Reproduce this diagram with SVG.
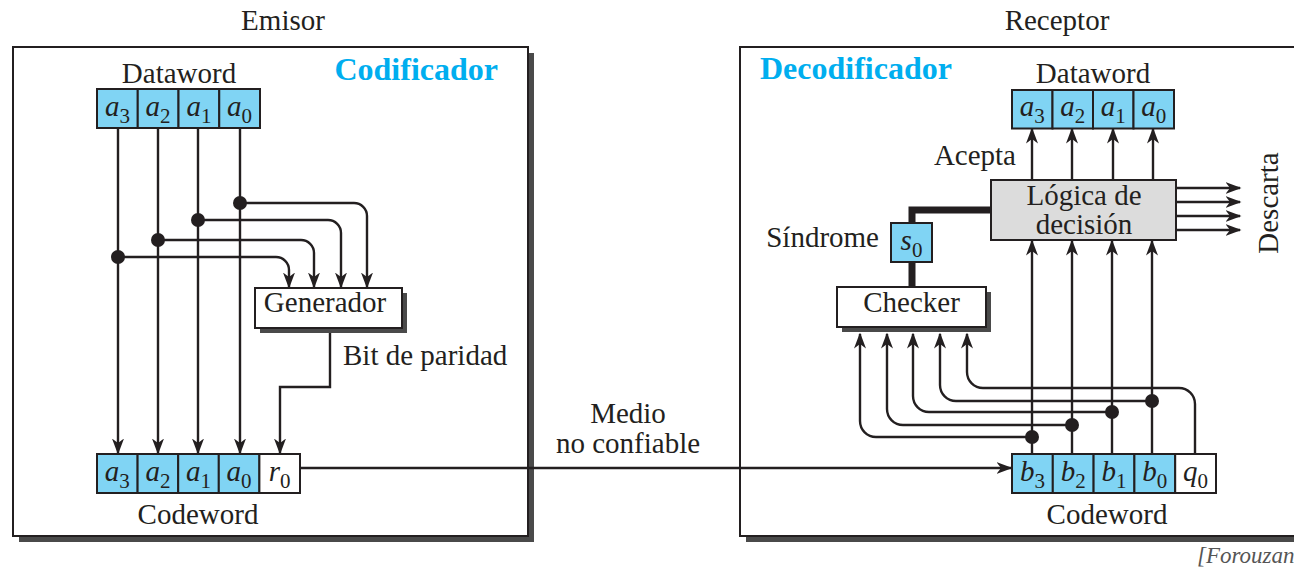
<svg xmlns="http://www.w3.org/2000/svg" width="1294" height="570" viewBox="0 0 1294 570">
<defs>
<style>
text{font-family:"Liberation Serif","Times New Roman",serif;fill:#231F20;font-size:29px}
.blue{fill:#00AEEF;font-weight:bold;font-size:32px}
.cell{fill:#80D4F4;stroke:#231F20;stroke-width:2}
.wcell{fill:#ffffff;stroke:#231F20;stroke-width:2}
.box{fill:#ffffff;stroke:#231F20;stroke-width:2}
.logic{fill:#DCDCDC;stroke:#231F20;stroke-width:2}
.shadow{fill:#4A4A4A}
.ln{fill:none;stroke:#231F20;stroke-width:2.4}
.arr{fill:none;stroke:#231F20;stroke-width:2.4;marker-end:url(#ah)}
.thick{fill:none;stroke:#231F20;stroke-width:7;stroke-linejoin:miter}
.dot{fill:#231F20}
.v{font-style:italic}
.sub{font-size:21px;font-style:normal}
.cite{font-style:italic;fill:#555555;font-size:23px}
</style>
<marker id="ah" markerUnits="userSpaceOnUse" viewBox="0 0 16 12" markerWidth="16" markerHeight="12" refX="14.5" refY="6" orient="auto">
<path d="M0,0 L16,6 L0,12 L4.5,6 z" fill="#231F20"/>
</marker>
</defs>

<text x="283" y="30" text-anchor="middle">Emisor</text>
<text x="1057" y="30" text-anchor="middle">Receptor</text>

<g id="encoder-box">
<rect class="shadow" x="19" y="53" width="515" height="489"/>
<rect class="box" x="13" y="47" width="515" height="489"/>
<text class="blue" x="498" y="80" text-anchor="end">Codificador</text>
</g>

<g id="decoder-box">
<rect class="shadow" x="746" y="53" width="570" height="489"/>
<rect class="box" x="740" y="47" width="570" height="489"/>
<text class="blue" x="760" y="79">Decodificador</text>
</g>

<g id="connectors">
<path class="arr" d="M118,128 V453"/>
<path class="arr" d="M158,128 V453"/>
<path class="arr" d="M198,128 V453"/>
<path class="arr" d="M240,128 V453"/>
<path class="arr" d="M240,203 H354 A13,13 0 0 1 367,216 V287"/>
<path class="arr" d="M198,220 H328 A13,13 0 0 1 341,233 V287"/>
<path class="arr" d="M158,240 H301 A13,13 0 0 1 314,253 V287"/>
<path class="arr" d="M118,257 H276 A13,13 0 0 1 289,270 V287"/>
<circle class="dot" cx="240" cy="203" r="7"/>
<circle class="dot" cx="198" cy="220" r="7"/>
<circle class="dot" cx="158" cy="240" r="7"/>
<circle class="dot" cx="118" cy="257" r="7"/>
<path class="arr" d="M330,327 V387 H280 V453"/>
<path class="arr" d="M300,468 H1011"/>
<path class="arr" d="M1032,180 V129"/>
<path class="arr" d="M1072,180 V129"/>
<path class="arr" d="M1113,180 V129"/>
<path class="arr" d="M1153,180 V129"/>
<path class="arr" d="M1176,188 H1240"/>
<path class="arr" d="M1176,202 H1240"/>
<path class="arr" d="M1176,216 H1240"/>
<path class="arr" d="M1176,230 H1240"/>
<path class="arr" d="M1032,454 V241"/>
<path class="arr" d="M1072,454 V241"/>
<path class="arr" d="M1112,454 V241"/>
<path class="arr" d="M1152,454 V241"/>
<path class="arr" d="M1032,437 H876 A16,16 0 0 1 860,421 V334"/>
<path class="arr" d="M1072,425 H903 A16,16 0 0 1 887,409 V334"/>
<path class="arr" d="M1112,412 H929 A16,16 0 0 1 913,396 V334"/>
<path class="arr" d="M1152,401 H956 A16,16 0 0 1 940,385 V334"/>
<path class="arr" d="M1195,454 V404 A16,16 0 0 0 1179,388 H983 A16,16 0 0 1 967,372 V334"/>
<circle class="dot" cx="1032" cy="437" r="7"/>
<circle class="dot" cx="1072" cy="425" r="7"/>
<circle class="dot" cx="1112" cy="412" r="7"/>
<circle class="dot" cx="1152" cy="401" r="7"/>
<path class="thick" d="M912,262 V287"/>
<path class="thick" d="M912,223 V210 H991"/>
</g>

<g id="enc-dataword">
<text x="179" y="83" text-anchor="middle">Dataword</text>
<rect class="cell" x="97" y="89" width="40.75" height="39"/>
<rect class="cell" x="137.75" y="89" width="40.75" height="39"/>
<rect class="cell" x="178.5" y="89" width="40.75" height="39"/>
<rect class="cell" x="219.25" y="89" width="40.75" height="39"/>
<text x="117.4" y="116" text-anchor="middle"><tspan class="v">a</tspan><tspan class="sub" dy="7">3</tspan></text>
<text x="158.1" y="116" text-anchor="middle"><tspan class="v">a</tspan><tspan class="sub" dy="7">2</tspan></text>
<text x="198.9" y="116" text-anchor="middle"><tspan class="v">a</tspan><tspan class="sub" dy="7">1</tspan></text>
<text x="239.6" y="116" text-anchor="middle"><tspan class="v">a</tspan><tspan class="sub" dy="7">0</tspan></text>
</g>

<g id="generador">
<rect class="shadow" x="260" y="293" width="147" height="40"/>
<rect class="box" x="255" y="288" width="147" height="40"/>
<text x="325" y="312" text-anchor="middle">Generador</text>
</g>
<text x="343" y="365">Bit de paridad</text>

<g id="enc-codeword">
<rect class="cell" x="97" y="454" width="40.6" height="39"/>
<rect class="cell" x="137.6" y="454" width="40.6" height="39"/>
<rect class="cell" x="178.2" y="454" width="40.6" height="39"/>
<rect class="cell" x="218.8" y="454" width="40.6" height="39"/>
<rect class="wcell" x="259.4" y="454" width="40.6" height="39"/>
<text x="117.3" y="481" text-anchor="middle"><tspan class="v">a</tspan><tspan class="sub" dy="7">3</tspan></text>
<text x="157.9" y="481" text-anchor="middle"><tspan class="v">a</tspan><tspan class="sub" dy="7">2</tspan></text>
<text x="198.5" y="481" text-anchor="middle"><tspan class="v">a</tspan><tspan class="sub" dy="7">1</tspan></text>
<text x="239.1" y="481" text-anchor="middle"><tspan class="v">a</tspan><tspan class="sub" dy="7">0</tspan></text>
<text x="279.7" y="481" text-anchor="middle"><tspan class="v">r</tspan><tspan class="sub" dy="7">0</tspan></text>
<text x="198" y="524" text-anchor="middle">Codeword</text>
</g>

<g id="medio">
<text x="628" y="423" text-anchor="middle">Medio</text>
<text x="628" y="453" text-anchor="middle">no confiable</text>
</g>

<g id="dec-dataword">
<text x="1093" y="83" text-anchor="middle">Dataword</text>
<rect class="cell" x="1012" y="90" width="40.5" height="38.5"/>
<rect class="cell" x="1052.5" y="90" width="40.5" height="38.5"/>
<rect class="cell" x="1093" y="90" width="40.5" height="38.5"/>
<rect class="cell" x="1133.5" y="90" width="40.5" height="38.5"/>
<text x="1032.2" y="116" text-anchor="middle"><tspan class="v">a</tspan><tspan class="sub" dy="7">3</tspan></text>
<text x="1072.7" y="116" text-anchor="middle"><tspan class="v">a</tspan><tspan class="sub" dy="7">2</tspan></text>
<text x="1113.2" y="116" text-anchor="middle"><tspan class="v">a</tspan><tspan class="sub" dy="7">1</tspan></text>
<text x="1153.7" y="116" text-anchor="middle"><tspan class="v">a</tspan><tspan class="sub" dy="7">0</tspan></text>
</g>
<text x="1016" y="165" text-anchor="end">Acepta</text>

<g id="logica">
<rect class="logic" x="991" y="180" width="185" height="60"/>
<text x="1084" y="205" text-anchor="middle">Lógica de</text>
<text x="1084" y="234" text-anchor="middle">decisión</text>
</g>
<text transform="translate(1278,203) rotate(-90)" text-anchor="middle">Descarta</text>

<g id="sindrome">
<text x="879" y="247" text-anchor="end">Síndrome</text>
<rect class="cell" x="891" y="223" width="41" height="39"/>
<text x="911.5" y="250" text-anchor="middle"><tspan class="v">s</tspan><tspan class="sub" dy="7">0</tspan></text>
</g>

<g id="checker">
<rect class="shadow" x="842" y="292" width="149" height="40"/>
<rect class="box" x="837" y="287" width="149" height="40"/>
<text x="911.5" y="312" text-anchor="middle">Checker</text>
</g>

<g id="dec-codeword">
<rect class="cell" x="1012" y="454" width="40.8" height="39"/>
<rect class="cell" x="1052.8" y="454" width="40.8" height="39"/>
<rect class="cell" x="1093.6" y="454" width="40.8" height="39"/>
<rect class="cell" x="1134.4" y="454" width="40.8" height="39"/>
<rect class="wcell" x="1175.2" y="454" width="40.8" height="39"/>
<text x="1032.4" y="481" text-anchor="middle"><tspan class="v">b</tspan><tspan class="sub" dy="7">3</tspan></text>
<text x="1073.2" y="481" text-anchor="middle"><tspan class="v">b</tspan><tspan class="sub" dy="7">2</tspan></text>
<text x="1114" y="481" text-anchor="middle"><tspan class="v">b</tspan><tspan class="sub" dy="7">1</tspan></text>
<text x="1154.8" y="481" text-anchor="middle"><tspan class="v">b</tspan><tspan class="sub" dy="7">0</tspan></text>
<text x="1195.6" y="481" text-anchor="middle"><tspan class="v">q</tspan><tspan class="sub" dy="7">0</tspan></text>
<text x="1107" y="524" text-anchor="middle">Codeword</text>
</g>

<text class="cite" x="1197" y="563">[Forouzan</text>
</svg>
